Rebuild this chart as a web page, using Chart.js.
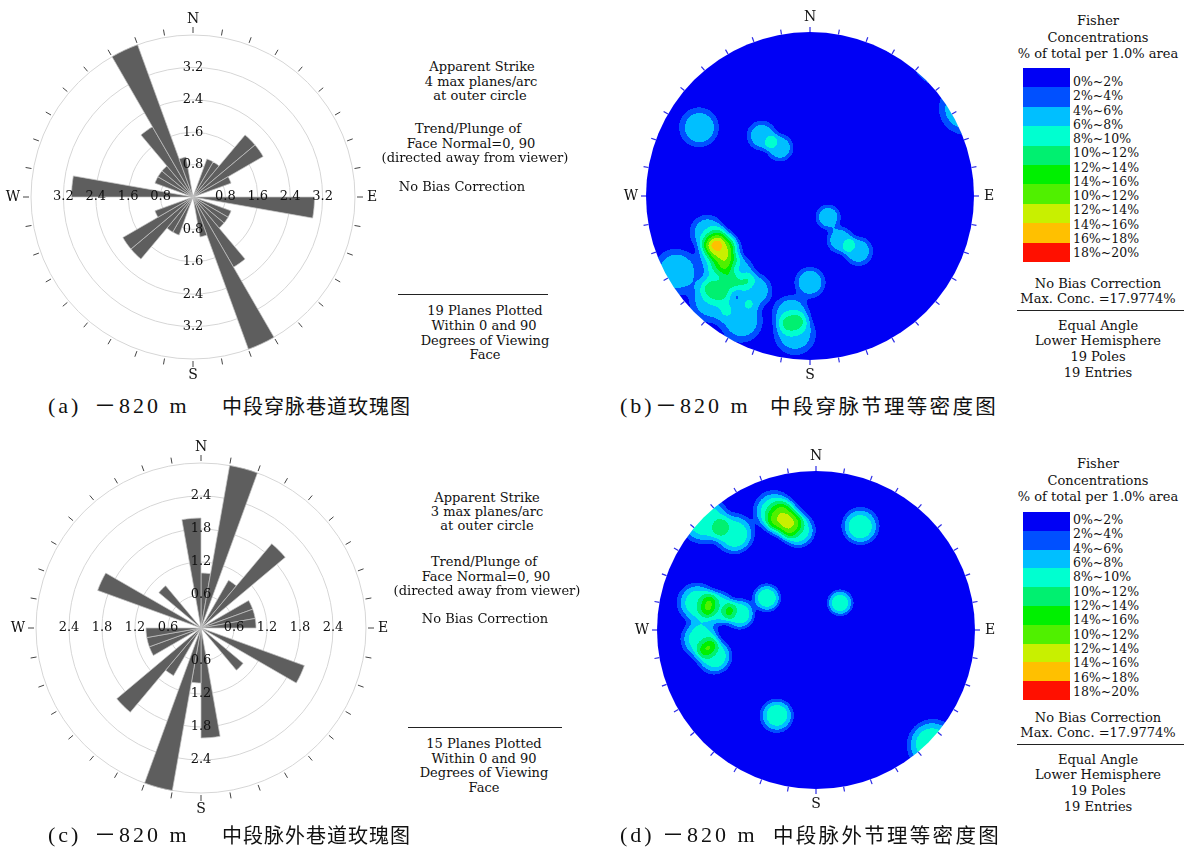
<!DOCTYPE html>
<html>
<head>
<meta charset="utf-8">
<script src="https://cdn.jsdelivr.net/npm/chart.js@4.4.0/dist/chart.umd.min.js"></script>
<style>
html, body { margin: 0; padding: 0; background: #fff; }
#page { position: relative; width: 1184px; height: 848px; overflow: hidden; background: #fff; }
canvas { position: absolute; }
.t { position: absolute; font-family: "DejaVu Serif", serif; font-size: 13px; color: #111; white-space: nowrap; line-height: 1; transform: translate(-50%, -50%); }
.tl { position: absolute; font-family: "DejaVu Serif", serif; font-size: 12.5px; color: #111; white-space: nowrap; line-height: 1; transform: translate(0, -50%); }
.rule { position: absolute; height: 0; border-top: 1.5px solid #222; }
.cap { position: absolute; white-space: nowrap; line-height: 1; transform: translate(0, -50%); color: #111; }
.lat { font-family: "Liberation Serif", "Noto Sans CJK SC", serif; font-size: 22px; letter-spacing: 3px; }
.cjk { font-family: "Noto Sans CJK SC", sans-serif; font-size: 20px; letter-spacing: 1px; }
.cjk2 { font-family: "Noto Sans CJK SC", sans-serif; font-size: 20.5px; letter-spacing: 2.3px; }
.sw { position: absolute; }
</style>
</head>
<body>
<div id="page">
  <canvas id="roseA" width="380" height="380" style="left:3px;top:7px"></canvas>
  <canvas id="roseC" width="390" height="390" style="left:6px;top:433px"></canvas>
  <canvas id="netB" width="388" height="388" style="left:616px;top:2px"></canvas>
  <canvas id="netD" width="378" height="378" style="left:627px;top:441px"></canvas>
</div>
<script>
// rose bins: 10 degree arcs, clockwise from north
const binLabels = [];
for (let i = 0; i < 36; i++) binLabels.push((i * 10) + '°–' + (i * 10 + 10) + '°');

// (a) planes per arc (bidirectional)
const roseA = [0, 0, 1, 1, 2, 2, 1, 0, 0, 3, 0, 1, 1, 1, 2, 4, 1, 0,
               0, 0, 1, 1, 2, 2, 1, 0, 0, 3, 0, 1, 1, 1, 2, 4, 1, 0];
const ticksA = [0.8, 1.6, 2.4, 3.2];
const maxA = 4;

// (c) planes per arc
const roseC = [1, 3, 0, 1, 2, 0, 1, 1, 1, 0, 0, 2, 0, 1, 0, 0, 0, 2,
               1, 3, 0, 1, 2, 0, 1, 1, 1, 0, 0, 2, 0, 1, 0, 0, 0, 2];
const ticksC = [0.6, 1.2, 1.8, 2.4];
const maxC = 3;

// poles, equal angle lower hemisphere (x = east, y = north, primitive = 1)
const polesB = [
  [-0.671, 0.415], [-0.293, 0.366], [-0.183, 0.293], [-0.810, -0.457],
  [-0.622, -0.220], [-0.549, -0.293], [-0.512, -0.335], [-0.573, -0.360], [-0.439, -0.463],
  [-0.549, -0.524], [-0.598, -0.634], [-0.335, -0.573], [-0.415, -0.756],
  [0.000, -0.524], [-0.116, -0.713], [-0.091, -0.835], [0.110, -0.128], [0.183, -0.268], [0.293, -0.335]
];
const polesD = [
  [-0.700, 0.690], [-0.510, 0.600], [-0.264, 0.742], [-0.195, 0.686],
  [-0.113, 0.623], [0.277, 0.648], [-0.742, 0.170], [-0.616, 0.138], [-0.478, 0.101],
  [-0.308, 0.201], [-0.723, -0.057], [-0.635, -0.164], [0.151, 0.170], [-0.245, -0.535]
];

// contour levels (% of total per 1% area)
const levels = [2, 4, 6, 8, 10, 12, 14, 16, 18];
const levelColors = ['#0000f5', '#0050ff', '#00bfff', '#00ffd0', '#00f070', '#00f000', '#50f000', '#c8f000', '#ffc000', '#ff1000'];
const legendLabels = ['0%~2%', '2%~4%', '4%~6%', '6%~8%', '8%~10%', '10%~12%', '12%~14%', '14%~16%',
                      '10%~12%', '12%~14%', '14%~16%', '16%~18%', '18%~20%'];

const page = document.getElementById('page');

function hexRgb(h) {
  return [parseInt(h.substr(1, 2), 16), parseInt(h.substr(3, 2), 16), parseInt(h.substr(5, 2), 16)];
}

// labels on the four axes + tick marks + N/E/S/W
const roseDeco = {
  id: 'roseDeco',
  afterDatasetsDraw(chart, args, opts) {
    const r = chart.scales.r;
    const ctx = chart.ctx;
    const cx = r.xCenter, cy = r.yCenter, R = r.drawingArea;
    ctx.save();
    ctx.font = '13px "DejaVu Serif"';
    ctx.fillStyle = '#111';
    ctx.textAlign = 'center';
    ctx.textBaseline = 'middle';
    opts.ticks.forEach(v => {
      const d = r.getDistanceFromCenterForValue(v);
      const s = v.toFixed(1);
      ctx.fillText(s, cx, cy - d);
      ctx.fillText(s, cx, cy + d);
      ctx.fillText(s, cx + d, cy);
      ctx.fillText(s, cx - d, cy);
    });
    ctx.strokeStyle = '#444';
    ctx.lineWidth = 1;
    for (let i = 0; i < 36; i++) {
      const a = i * Math.PI / 18;
      const sx = Math.sin(a), sy = -Math.cos(a);
      ctx.beginPath();
      ctx.moveTo(cx + sx * (R + 2), cy + sy * (R + 2));
      ctx.lineTo(cx + sx * (R + 8), cy + sy * (R + 8));
      ctx.stroke();
    }
    ctx.font = '14px "DejaVu Serif"';
    ctx.fillText('N', cx, cy - R - 16);
    ctx.fillText('S', cx, cy + R + 16);
    ctx.fillText('E', cx + R + 17, cy);
    ctx.fillText('W', cx - R - 18, cy);
    ctx.restore();
  }
};

function makeRose(id, values, max, ticks, pad) {
  return new Chart(document.getElementById(id), {
    type: 'polarArea',
    data: {
      labels: binLabels,
      datasets: [{ data: values, backgroundColor: '#5e5e5e', borderColor: '#c4c4c4', borderWidth: 0.7 }]
    },
    options: {
      responsive: false,
      animation: false,
      events: [],
      layout: { padding: pad },
      plugins: { legend: { display: false }, tooltip: { enabled: false }, roseDeco: { ticks: ticks } },
      scales: {
        r: {
          min: 0, max: max,
          ticks: { stepSize: ticks[0], display: false },
          grid: { color: '#d6d6d6', lineWidth: 1 },
          angleLines: { display: false },
          pointLabels: { display: false }
        }
      }
    },
    plugins: [roseDeco]
  });
}

// projected point -> unit vector (stereographic, lower hemisphere)
function toSphere(x, y) {
  const r2 = x * x + y * y;
  const k = 1 / (1 + r2);
  return [2 * x * k, 2 * y * k, (r2 - 1) * k];
}

// Fisher-type concentration of the poles, drawn as pixel cells through the x/y scales
const densityPlugin = {
  id: 'density',
  beforeDatasetsDraw(chart, args, opts) {
    const ctx = chart.ctx;
    const a = chart.chartArea;
    const xs = chart.scales.x, ys = chart.scales.y;
    const pts = chart.data.datasets[0].data.map(p => toSphere(p.x, p.y));
    const n = pts.length;
    const w = Math.round(a.right - a.left), h = Math.round(a.bottom - a.top);
    const off = document.createElement('canvas');
    off.width = w; off.height = h;
    const octx = off.getContext('2d');
    const img = octx.createImageData(w, h);
    const rgb = levelColors.map(hexRgb);
    const t0 = opts.spread;
    for (let j = 0; j < h; j++) {
      const vy = ys.getValueForPixel(a.top + j + 0.5);
      for (let i = 0; i < w; i++) {
        const vx = xs.getValueForPixel(a.left + i + 0.5);
        const u = toSphere(vx, vy);
        let d = 0;
        for (let k = 0; k < n; k++) {
          const p = pts[k];
          const c = Math.min(1, Math.abs(u[0] * p[0] + u[1] * p[1] + u[2] * p[2]));
          const q = Math.acos(c) / t0;
          d += Math.exp(-q * q * q * q);
        }
        d *= 100 / n;
        let lv = 0;
        while (lv < levels.length && d >= levels[lv]) lv++;
        const col = rgb[lv];
        const o = (j * w + i) * 4;
        img.data[o] = col[0]; img.data[o + 1] = col[1]; img.data[o + 2] = col[2]; img.data[o + 3] = 255;
      }
    }
    octx.putImageData(img, 0, 0);
    const cx = xs.getPixelForValue(0), cy = ys.getPixelForValue(0);
    const R = xs.getPixelForValue(1) - cx;
    ctx.save();
    ctx.beginPath();
    ctx.arc(cx, cy, R, 0, Math.PI * 2);
    ctx.clip();
    ctx.drawImage(off, a.left, a.top);
    ctx.restore();

    ctx.save();
    ctx.strokeStyle = '#2a2ae6';
    ctx.lineWidth = 1.2;
    for (let i = 0; i < 36; i++) {
      const t = i * Math.PI / 18;
      const sx = Math.sin(t), sy = -Math.cos(t);
      ctx.beginPath();
      ctx.moveTo(cx + sx * R, cy + sy * R);
      ctx.lineTo(cx + sx * (R + 5), cy + sy * (R + 5));
      ctx.stroke();
    }
    ctx.fillStyle = '#111';
    ctx.font = '14px "DejaVu Serif"';
    ctx.textAlign = 'center';
    ctx.textBaseline = 'middle';
    ctx.fillText('N', cx, cy - R - 15);
    ctx.fillText('S', cx, cy + R + 15);
    ctx.fillText('E', cx + R + 15, cy);
    ctx.fillText('W', cx - R - 15, cy);
    ctx.restore();
  }
};

function makeNet(id, poles, pad) {
  return new Chart(document.getElementById(id), {
    type: 'scatter',
    data: { datasets: [{ data: poles.map(p => ({ x: p[0], y: p[1] })), pointRadius: 0 }] },
    options: {
      responsive: false,
      animation: false,
      events: [],
      layout: { padding: pad },
      plugins: { legend: { display: false }, tooltip: { enabled: false }, density: { spread: 0.15 } },
      scales: {
        x: { type: 'linear', min: -1, max: 1, display: false },
        y: { type: 'linear', min: -1, max: 1, display: false }
      }
    },
    plugins: [densityPlugin]
  });
}

makeRose('roseA', roseA, maxA, ticksA, 28);
makeRose('roseC', roseC, maxC, ticksC, 30);
makeNet('netB', polesB, 30);
makeNet('netD', polesD, 30);

// text helpers
function text(s, x, y, cls) {
  const d = document.createElement('div');
  d.className = cls || 't';
  d.textContent = s;
  d.style.left = x + 'px';
  d.style.top = y + 'px';
  page.appendChild(d);
}
function rule(x1, x2, y) {
  const d = document.createElement('div');
  d.className = 'rule';
  d.style.left = x1 + 'px';
  d.style.width = (x2 - x1) + 'px';
  d.style.top = y + 'px';
  page.appendChild(d);
}

// rose notes
[['Apparent Strike', 482, 66], ['4 max planes/arc', 481, 81], ['at outer circle', 480, 95],
 ['Trend/Plunge of', 468, 128], ['Face Normal=0, 90', 471, 143], ['(directed away from viewer)', 475, 157],
 ['No Bias Correction', 462, 186],
 ['19 Planes Plotted', 485, 310], ['Within 0 and 90', 484, 325], ['Degrees of Viewing', 485, 340], ['Face', 485, 354]
].forEach(l => text(l[0], l[1], l[2]));
rule(398, 548, 294);

[['Apparent Strike', 487, 497], ['3 max planes/arc', 487, 511], ['at outer circle', 487, 525],
 ['Trend/Plunge of', 484, 561], ['Face Normal=0, 90', 486, 576], ['(directed away from viewer)', 487, 590],
 ['No Bias Correction', 485, 618],
 ['15 Planes Plotted', 484, 743], ['Within 0 and 90', 484, 758], ['Degrees of Viewing', 484, 772], ['Face', 484, 787]
].forEach(l => text(l[0], l[1], l[2]));
rule(408, 562, 727);

// density legends
function legend(yHead, ySw, hSw, yLab, stepLab, yFoot) {
  const cx = 1098;
  text('Fisher', cx, yHead);
  text('Concentrations', cx, yHead + 17);
  text('% of total per 1.0% area', cx, yHead + 33);
  const bh = hSw / levelColors.length;
  levelColors.forEach((c, i) => {
    const d = document.createElement('div');
    d.className = 'sw';
    d.style.left = '1023px';
    d.style.top = (ySw + i * bh) + 'px';
    d.style.width = '47px';
    d.style.height = (bh + 0.5) + 'px';
    d.style.background = c;
    page.appendChild(d);
  });
  legendLabels.forEach((s, i) => text(s, 1073, yLab + i * stepLab, 'tl'));
  text('No Bias Correction', cx, yFoot);
  text('Max. Conc. =17.9774%', cx, yFoot + 15);
  rule(1017, 1184, yFoot + 27);
  text('Equal Angle', cx, yFoot + 42);
  text('Lower Hemisphere', cx, yFoot + 57);
  text('19 Poles', cx, yFoot + 73);
  text('19 Entries', cx, yFoot + 89);
}
legend(20, 68, 194, 82, 14.25, 283);
legend(463, 512, 188, 520, 14.33, 717);

// captions
function caption(parts, y) {
  parts.forEach(p => {
    const d = document.createElement('div');
    d.className = 'cap';
    d.style.left = p[1] + 'px';
    d.style.top = y + 'px';
    const s = document.createElement('span');
    s.className = p[2];
    s.textContent = p[0];
    d.appendChild(s);
    page.appendChild(d);
  });
}
caption([['(a)', 48, 'lat'], ['－820 m', 94, 'lat'], ['中段穿脉巷道玫瑰图', 222, 'cjk']], 406);
caption([['(b)', 620, 'lat'], ['－820 m', 655, 'lat'], ['中段穿脉节理等密度图', 770, 'cjk2']], 406);
caption([['(c)', 48, 'lat'], ['－820 m', 94, 'lat'], ['中段脉外巷道玫瑰图', 222, 'cjk']], 835);
caption([['(d)', 620, 'lat'], ['－820 m', 662, 'lat'], ['中段脉外节理等密度图', 773, 'cjk2']], 835);
</script>
</body>
</html>
